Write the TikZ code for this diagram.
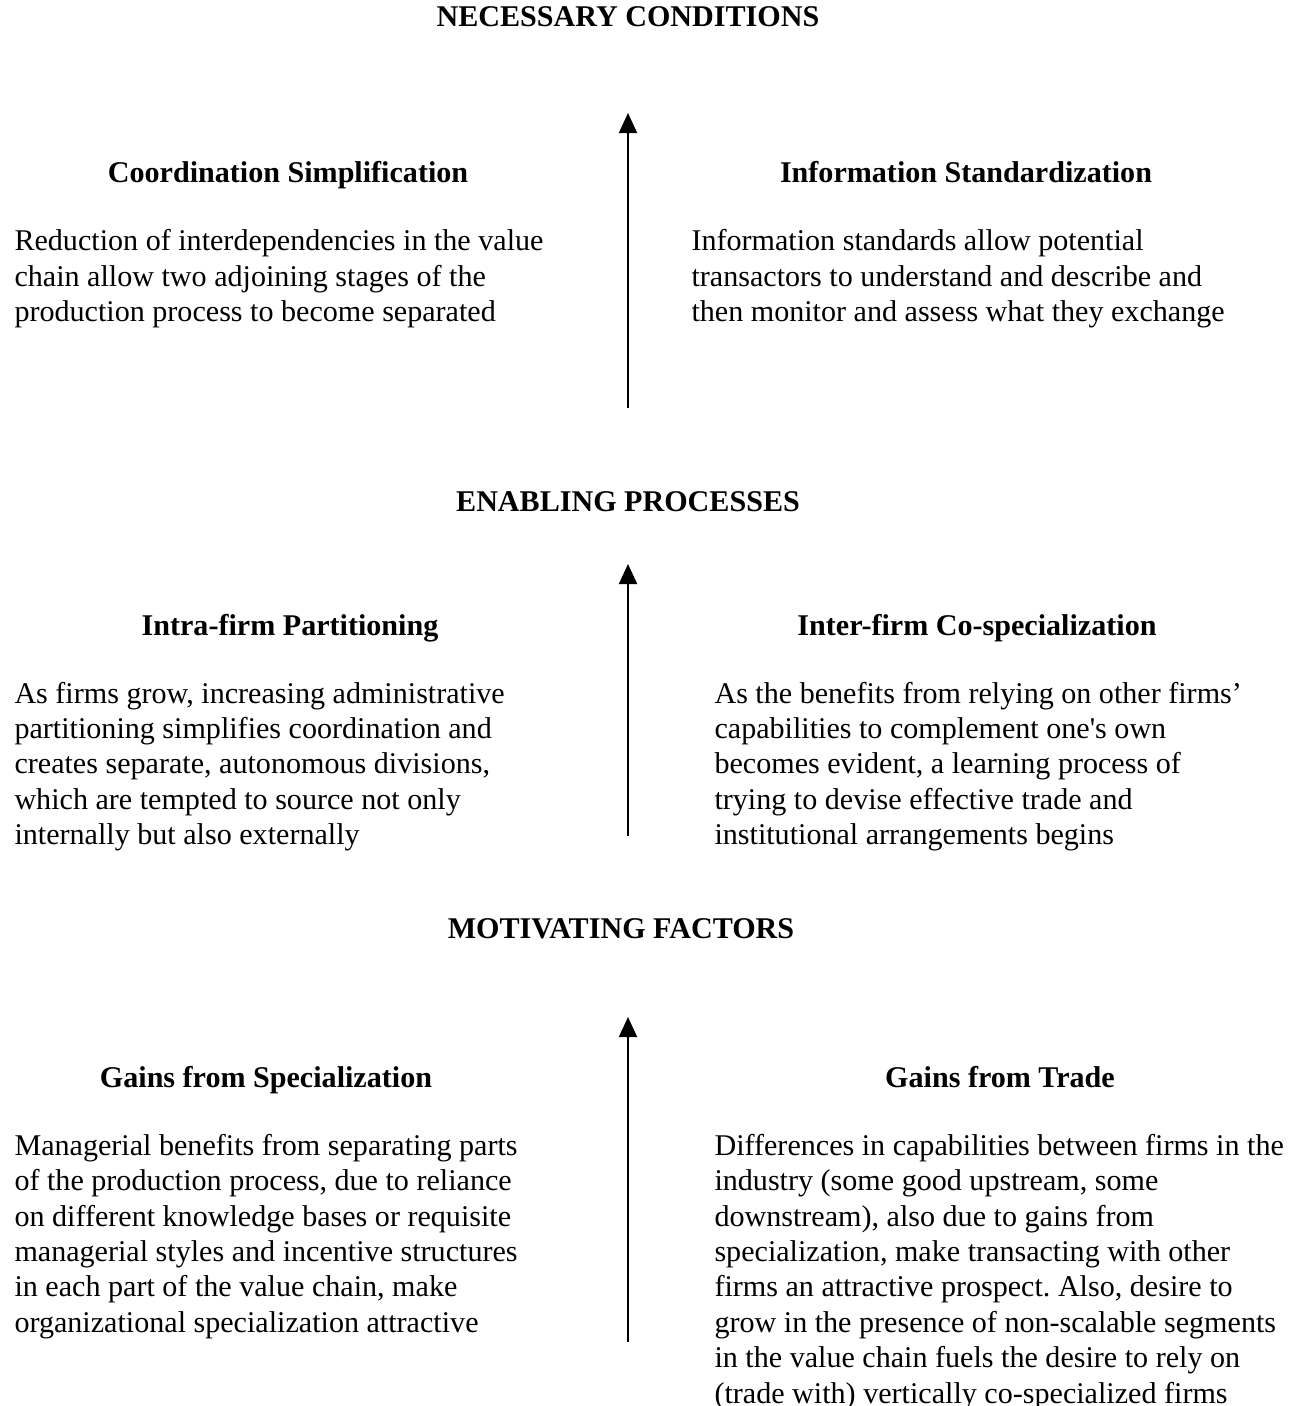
\documentclass[tikz,border=0pt]{standalone}
\usepackage{fontspec}
\setmainfont{Liberation Serif}
\usetikzlibrary{arrows.meta, positioning}

% text block that sits on the baseline of its first line
\newcommand{\lines}[1]{\begin{tabular}[t]{@{}l@{}}#1\end{tabular}}

\begin{document}
\frenchspacing
\begin{tikzpicture}[x=0.3888pt, y=-0.3888pt,
        font=\fontsize{11.7}{13.8}\selectfont,
        level/.style={font=\fontsize{11.7}{13.8}\selectfont\bfseries, inner sep=0pt, anchor=base},
        head/.style={font=\fontsize{11.7}{13.8}\selectfont\bfseries, inner sep=0pt, anchor=base},
        txt/.style={inner sep=0pt, anchor=base west},
        up/.style={-{Triangle[length=7.8pt,width=7pt]}, line width=0.8pt}]
      \useasboundingbox (0,0) rectangle (1298,1406);

      % top level
      \node[level] (nec) at (628,27) {NECESSARY CONDITIONS};
      \node[head] (coord) at (288,183) {Coordination Simplification};
      \node[head] (info) at (966,183) {Information Standardization};
      \node[txt] (coordtxt) at (14,251) {\lines{Reduction of interdependencies in the value\\
        chain allow two adjoining stages of the\\production process to become separated}};
      \node[txt] (infotxt) at (691,251) {\lines{Information standards allow potential\\
        transactors to understand and describe and\\then monitor and assess what they exchange}};
      \coordinate (necbot) at (628,408);
      \coordinate (nectop) at (628,113);
      \draw[up] (necbot) -- (nectop);

      % middle level
      \node[level] (enab) at (628,511) {ENABLING PROCESSES};
      \node[head] (intra) at (290,635) {Intra-firm Partitioning};
      \node[head] (inter) at (977,635) {Inter-firm Co-specialization};
      \node[txt] (intratxt) at (14,703) {\lines{As firms grow, increasing administrative\\
        partitioning simplifies coordination and\\creates separate, autonomous divisions,\\
        which are tempted to source not only\\internally but also externally}};
      \node[txt] (intertxt) at (714,703) {\lines{As the benefits from relying on other firms'\\
        capabilities to complement one\textquotesingle s own\\becomes evident, a learning process of\\
        trying to devise effective trade and\\institutional arrangements begins}};
      \coordinate (enabbot) at (628,836);
      \coordinate (enabtop) at (628,564);
      \draw[up] (enabbot) -- (enabtop);

      % bottom level
      \node[level] (motiv) at (621,938) {MOTIVATING FACTORS};
      \node[head] (spec) at (266,1087) {Gains from Specialization};
      \node[head] (trade) at (1000,1087) {Gains from Trade};
      \node[txt] (spectxt) at (14,1155) {\lines{Managerial benefits from separating parts\\
        of the production process, due to reliance\\on different knowledge bases or requisite\\
        managerial styles and incentive structures\\in each part of the value chain, make\\
        organizational specialization attractive}};
      \node[txt] (tradetxt) at (714,1155) {\lines{Differences in capabilities between firms in the\\
        industry (some good upstream, some\\downstream), also due to gains from\\
        specialization, make transacting with other\\firms an attractive prospect. Also, desire to\\
        grow in the presence of non-scalable segments\\in the value chain fuels the desire to rely on\\
        (trade with) vertically co-specialized firms}};
      \coordinate (motivbot) at (628,1342);
      \coordinate (motivtop) at (628,1017);
      \draw[up] (motivbot) -- (motivtop);
\end{tikzpicture}
\end{document}
